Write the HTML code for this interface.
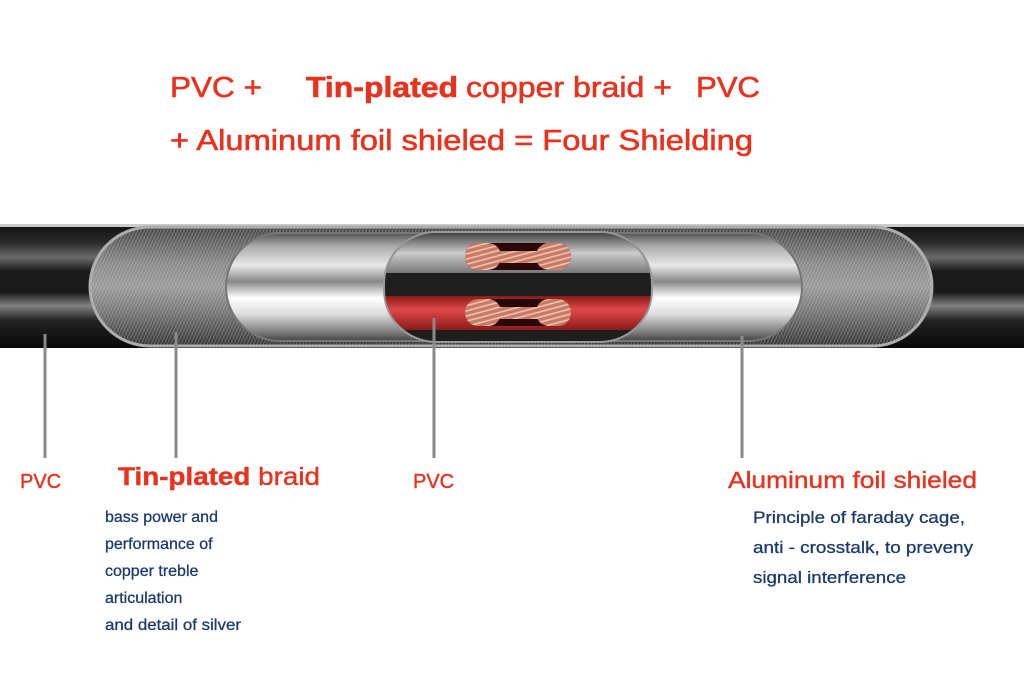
<!DOCTYPE html>
<html><head><meta charset="utf-8"><style>
html,body{margin:0;padding:0;background:#fff;width:1024px;height:682px;overflow:hidden}
svg{display:block}
text{font-family:"Liberation Sans",Arial,sans-serif}
</style></head><body>
<svg width="1024" height="682" viewBox="0 0 1024 682" xmlns="http://www.w3.org/2000/svg">
<defs>
<linearGradient id="blk" x1="0" y1="0" x2="0" y2="1">
<stop offset="0" stop-color="#111"/><stop offset="0.15" stop-color="#2a2a2a"/><stop offset="0.27" stop-color="#6a6a6a"/><stop offset="0.38" stop-color="#1a1a1a"/><stop offset="0.55" stop-color="#1a1a1a"/><stop offset="0.66" stop-color="#808080"/><stop offset="0.78" stop-color="#222"/><stop offset="1" stop-color="#0a0a0a"/>
</linearGradient>
<linearGradient id="slv" x1="0" y1="0" x2="0" y2="1">
<stop offset="0" stop-color="#555"/><stop offset="0.12" stop-color="#aaa"/><stop offset="0.3" stop-color="#e8e8e8"/><stop offset="0.45" stop-color="#888"/><stop offset="0.6" stop-color="#fff"/><stop offset="0.75" stop-color="#ddd"/><stop offset="0.9" stop-color="#888"/><stop offset="1" stop-color="#444"/>
</linearGradient>
<linearGradient id="brd" x1="0" y1="0" x2="0" y2="1">
<stop offset="0" stop-color="#444"/><stop offset="0.3" stop-color="#888"/><stop offset="0.5" stop-color="#999"/><stop offset="0.7" stop-color="#777"/><stop offset="1" stop-color="#333"/>
</linearGradient>
<pattern id="hatch" width="3" height="3" patternUnits="userSpaceOnUse" patternTransform="rotate(25)">
<line x1="0" y1="0" x2="0" y2="3" stroke="#eee" stroke-width="0.9"/>
</pattern>
<pattern id="hatch2" width="3" height="3" patternUnits="userSpaceOnUse" patternTransform="rotate(-25)">
<line x1="0" y1="0" x2="0" y2="3" stroke="#ddd" stroke-width="0.7"/>
</pattern>
<linearGradient id="red" x1="0" y1="0" x2="0" y2="1">
<stop offset="0" stop-color="#8a1a1a"/><stop offset="0.4" stop-color="#e04848"/><stop offset="1" stop-color="#8a1a1a"/>
</linearGradient>
<linearGradient id="top" x1="0" y1="0" x2="0" y2="1">
<stop offset="0" stop-color="#444"/><stop offset="0.5" stop-color="#ccc"/><stop offset="1" stop-color="#777"/>
</linearGradient>
<pattern id="cu" width="5" height="5" patternUnits="userSpaceOnUse" patternTransform="rotate(-15)">
<rect width="5" height="5" fill="#c87a66"/><line x1="0" y1="1" x2="5" y2="1" stroke="#f3c8b5" stroke-width="1.5"/>
</pattern>
</defs>
<rect x="0" y="224" width="1024" height="124" fill="url(#blk)"/>
<rect x="0" y="224" width="1024" height="3" fill="#ccc"/>
<rect x="90" y="227" width="842" height="119" rx="60" fill="url(#brd)" stroke="#aaa" stroke-width="3"/>
<rect x="90" y="227" width="842" height="119" rx="60" fill="url(#hatch)" opacity="0.45"/>
<rect x="90" y="227" width="842" height="119" rx="60" fill="url(#hatch2)" opacity="0.3"/>
<rect x="226" y="233" width="576" height="108" rx="54" fill="url(#slv)" stroke="#777" stroke-width="2"/>
<rect x="384" y="232" width="268" height="110" rx="52" fill="#1e1e1e" stroke="#999" stroke-width="2"/>
<clipPath id="ic"><rect x="385" y="233" width="266" height="108" rx="51"/></clipPath>
<g clip-path="url(#ic)">
<rect x="385" y="233" width="266" height="40" fill="url(#top)"/>
<rect x="385" y="296" width="266" height="34" fill="url(#red)"/>
</g>
<g>
<rect x="465" y="243" width="106" height="27" rx="13" fill="#2a0808"/>
<rect x="465" y="243" width="36" height="27" rx="13" fill="url(#cu)"/>
<rect x="536" y="243" width="35" height="27" rx="13" fill="url(#cu)"/>
<rect x="498" y="251" width="40" height="12" fill="url(#cu)"/>
<rect x="465" y="299" width="106" height="27" rx="13" fill="#2a0808"/>
<rect x="465" y="299" width="36" height="27" rx="13" fill="url(#cu)"/>
<rect x="536" y="299" width="35" height="27" rx="13" fill="url(#cu)"/>
<rect x="498" y="307" width="40" height="12" fill="url(#cu)"/>
</g>
<g stroke="#8a8a8a" stroke-width="3">
<line x1="45" y1="334" x2="45" y2="458"/>
<line x1="176" y1="332" x2="176" y2="458"/>
<line x1="434" y1="318" x2="434" y2="458"/>
<line x1="742" y1="336" x2="742" y2="458"/>
</g>
<g fill="#e8321e" stroke="#e8321e" stroke-width="0.6" font-size="29">
<text x="170" y="97" textLength="92" lengthAdjust="spacingAndGlyphs">PVC +</text>
<text x="306" y="97" font-weight="bold" textLength="152" lengthAdjust="spacingAndGlyphs">Tin-plated</text>
<text x="466" y="97" textLength="206" lengthAdjust="spacingAndGlyphs">copper braid +</text>
<text x="696" y="97" textLength="64" lengthAdjust="spacingAndGlyphs">PVC</text>
<text x="170" y="150" textLength="583" lengthAdjust="spacingAndGlyphs">+ Aluminum foil shieled = Four Shielding</text>
</g>
<g fill="#e8321e" stroke="#e8321e" stroke-width="0.4">
<text x="20" y="488" font-size="20">PVC</text>
<text x="118" y="485" font-size="25" textLength="202" lengthAdjust="spacingAndGlyphs"><tspan font-weight="bold">Tin-plated</tspan> braid</text>
<text x="413" y="488" font-size="20">PVC</text>
<text x="728" y="488" font-size="23" textLength="249" lengthAdjust="spacingAndGlyphs">Aluminum foil shieled</text>
</g>
<g fill="#1d3a6e" stroke="#1d3a6e" stroke-width="0.3" font-size="16">
<text x="105" y="522">bass power and</text>
<text x="105" y="549">performance of</text>
<text x="105" y="576">copper treble</text>
<text x="105" y="603">articulation</text>
<text x="105" y="630" textLength="136" lengthAdjust="spacingAndGlyphs">and detail of silver</text>
</g>
<g fill="#1d3a6e" stroke="#1d3a6e" stroke-width="0.3" font-size="17">
<text x="753" y="523" textLength="212" lengthAdjust="spacingAndGlyphs">Principle of faraday cage,</text>
<text x="753" y="553" textLength="220" lengthAdjust="spacingAndGlyphs">anti - crosstalk, to preveny</text>
<text x="753" y="583" textLength="153" lengthAdjust="spacingAndGlyphs">signal interference</text>
</g>
</svg>
</body></html>
